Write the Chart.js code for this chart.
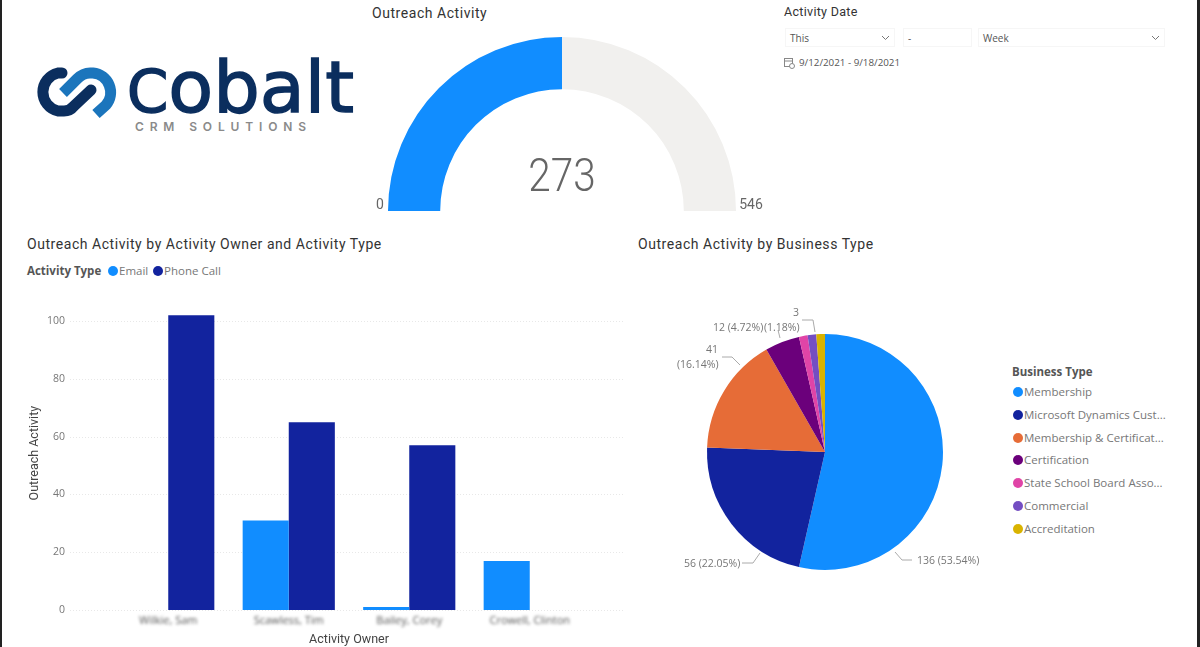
<!DOCTYPE html>
<html>
<head>
<meta charset="utf-8">
<script src="https://cdn.jsdelivr.net/npm/chart.js@4"></script>
<style>
  html, body { margin: 0; padding: 0; background: #fff; }
  body { position: relative; width: 1200px; height: 647px; overflow: hidden; font-family: "Open Sans", sans-serif; color: #777; }
  .edge { position: absolute; top: 0; bottom: 0; background: #222; }
  .title { position: absolute; font-family: Roboto, sans-serif; font-size: 14px; letter-spacing: .55px; color: #333; white-space: nowrap; line-height: 18px; }
  canvas { position: absolute; }
  .box { position: absolute; top: 28px; height: 19px; border: 1px solid #f6f6f6; box-sizing: border-box; font-size: 10px; line-height: 18px; padding-left: 4px; color: #555; }
  .box svg { position: absolute; right: 4px; top: 6px; }
  .legend-text { position: absolute; font-size: 11.5px; line-height: 16px; white-space: nowrap; }
  .dot { position: absolute; width: 10px; height: 10px; border-radius: 50%; }
  b { color: #555; font-weight: 700; }
</style>
</head>
<body>
<div class="edge" style="left:0;width:2px"></div>
<div class="edge" style="left:1197px;width:3px"></div>

<svg style="position:absolute;left:30px;top:55px" width="340" height="85" viewBox="30 55 340 85">
  <path d="M62 73 H58 A19.500 19.500 0 0 0 58 111 H64 Q70 111 74 106 L91 90" fill="none" stroke="#0b2e5e" stroke-width="11" stroke-linecap="round"/>
  <path d="M63 93 L77 79 Q83 73 90 73 H93 A19.500 19.500 0 0 1 106 105 L96 114" fill="none" stroke="#1b75bc" stroke-width="11"/>
  <text x="127" y="112" textLength="227" lengthAdjust="spacingAndGlyphs" font-family="DejaVu Sans, sans-serif" font-size="72" fill="#0b2e5e" stroke="#0b2e5e" stroke-width="1.500"><tspan font-size="58">C</tspan>obalt</text>
  <text x="135" y="131" textLength="171" font-family="Inter, sans-serif" font-size="12" font-weight="600" fill="#8a8a8a">CRM SOLUTIONS</text>
</svg>

<div class="title" style="left:372px;top:4px">Outreach Activity</div>
<div class="title" style="left:27px;top:235px">Outreach Activity by Activity Owner and Activity Type</div>
<div class="title" style="left:638px;top:235px">Outreach Activity by Business Type</div>

<div class="title" style="left:784px;top:3px;font-size:12.500px;letter-spacing:.3px">Activity Date</div>
<div class="box" style="left:785px;width:110px">This<svg width="9" height="6"><path d="M1 1 L4.500 4.500 L8 1" fill="none" stroke="#777"/></svg></div>
<div class="box" style="left:903px;width:69px">-</div>
<div class="box" style="left:978px;width:187px">Week<svg width="9" height="6"><path d="M1 1 L4.500 4.500 L8 1" fill="none" stroke="#777"/></svg></div>
<svg style="position:absolute;left:784px;top:57px" width="11" height="12"><rect x=".5" y="1.500" width="8" height="8" fill="none" stroke="#888"/><path d="M.5 4 H8.500" stroke="#888"/><circle cx="8" cy="9" r="2.500" fill="#fff" stroke="#888"/></svg>
<div class="legend-text" style="left:799px;top:55px;font-size:9.800px;color:#555">9/12/2021 - 9/18/2021</div>

<div id="barLegend"></div>
<div id="pieLegend"></div>

<canvas id="gauge" style="left:357px;top:37px"></canvas>
<canvas id="bars" style="left:0;top:290px"></canvas>
<canvas id="pie" style="left:640px;top:290px"></canvas>

<script>
const gaugeValue = 273;
const gaugeMax = 546;

const owners = ["Wilkie, Sam", "Scawless, Tim", "Bailey, Corey", "Crowell, Clinton"];
const emailCounts = [0, 31, 1, 17];
const phoneCounts = [102, 65, 57, 0];
const yTicks = [0, 20, 40, 60, 80, 100];

const businessTypes = ["Membership", "Microsoft Dynamics Cust...", "Membership & Certificat...", "Certification", "State School Board Asso...", "Commercial", "Accreditation"];
const businessCounts = [136, 56, 41, 12, 3, 3, 3];

const BLUE = "#118DFF", NAVY = "#12239E";
const pieColors = [BLUE, NAVY, "#E66C37", "#6B007B", "#E044A7", "#744EC2", "#D9B300"];
const FONT = '"Open Sans", sans-serif';

Chart.defaults.animation = false;
Chart.defaults.responsive = false;
Chart.defaults.devicePixelRatio = 1;
Chart.defaults.plugins.legend.display = false;
Chart.defaults.plugins.tooltip.enabled = false;

function size(id, w, h) {
  const c = document.getElementById(id);
  c.width = w; c.height = h;
  return c;
}

// legends
function addLegendItem(parent, x, y, color, label) {
  const d = document.createElement("div");
  d.className = "dot";
  d.style.cssText = `left:${x - 5}px;top:${y - 5}px;background:${color}`;
  parent.appendChild(d);
  const t = document.createElement("div");
  t.className = "legend-text";
  t.style.cssText = `left:${x + 6}px;top:${y - 8}px`;
  t.textContent = label;
  parent.appendChild(t);
}
const barLegend = document.getElementById("barLegend");
barLegend.innerHTML = '<div class="legend-text" style="left:27px;top:263px"><b>Activity Type</b></div>';
addLegendItem(barLegend, 113, 271, BLUE, "Email");
addLegendItem(barLegend, 158, 271, NAVY, "Phone Call");

const pieLegend = document.getElementById("pieLegend");
pieLegend.innerHTML = '<div class="legend-text" style="left:1012px;top:364px"><b>Business Type</b></div>';
businessTypes.forEach((b, i) => addLegendItem(pieLegend, 1018, 392 + i * 22.8, pieColors[i], b));

// gauge
new Chart(size("gauge", 410, 174), {
  type: "doughnut",
  data: { labels: ["Value", "Rest"], datasets: [{ data: [gaugeValue, gaugeMax - gaugeValue], backgroundColor: [BLUE, "#F1F0EE"], borderWidth: 0 }] },
  options: { rotation: -90, circumference: 180, cutout: "70%", layout: { padding: 0 } },
  plugins: [{
    id: "gaugeText",
    afterDraw(chart) {
      const ctx = chart.ctx;
      ctx.save();
      ctx.textBaseline = "middle";
      ctx.textAlign = "center";
      ctx.fillStyle = "#666";
      ctx.font = "14px Roboto, sans-serif";
      ctx.fillText("0", 23, 168);
      ctx.fillText(String(gaugeMax), 394, 168);
      ctx.translate(205, 142);
      ctx.scale(.88, 1);
      ctx.font = "300 46px Roboto, sans-serif";
      ctx.fillText(String(gaugeValue), 0, 0);
      ctx.restore();
    }
  }]
});

// bars
new Chart(size("bars", 640, 357), {
  type: "bar",
  data: {
    labels: owners,
    datasets: [
      { label: "Email", data: emailCounts, backgroundColor: BLUE },
      { label: "Phone Call", data: phoneCounts, backgroundColor: NAVY }
    ]
  },
  options: {
    layout: { autoPadding: false, padding: { left: 27, right: 50, top: 1, bottom: 0 } },
    datasets: { bar: { barPercentage: 1, categoryPercentage: 0.765 } },
    scales: {
      x: {
        grid: { display: false },
        border: { display: false },
        ticks: { display: false },
        title: { display: true, text: "Activity Owner", color: "#444", padding: 0, font: { family: "Roboto, sans-serif", size: 12.5 } },
        afterFit(s) { s.height = 37; }
      },
      y: {
        min: 0, max: 108.6,
        grid: { display: false, tickLength: 43 },
        border: { display: false },
        afterBuildTicks(s) { s.ticks = yTicks.map(v => ({ value: v })); },
        ticks: { color: "#777", padding: 0, font: { family: FONT, size: 10.5 } },
        title: { display: true, text: "Outreach Activity", color: "#444", padding: 0, font: { family: "Roboto, sans-serif", size: 12.5 } },
        afterFit(s) { s.width = 81; }
      }
    }
  },
  plugins: [{
    id: "wideGrid",
    beforeDatasetsDraw(chart) {
      // the grid runs past the plot on both sides
      const ctx = chart.ctx, y = chart.scales.y;
      ctx.save();
      ctx.strokeStyle = "#e8e8e8";
      ctx.setLineDash([1, 2]);
      yTicks.forEach(v => {
        const py = Math.round(y.getPixelForValue(v)) + .5;
        ctx.beginPath(); ctx.moveTo(70, py); ctx.lineTo(625, py); ctx.stroke();
      });
      ctx.restore();
    },
    afterDraw(chart) {
      // owner names are smudged in the picture
      const ctx = chart.ctx, x = chart.scales.x;
      ctx.save();
      ctx.filter = "blur(1.8px)";
      ctx.font = "11px " + FONT;
      ctx.fillStyle = "#555";
      ctx.textAlign = "center";
      ctx.textBaseline = "middle";
      owners.forEach((o, i) => ctx.fillText(o, x.getPixelForTick(i), 331));
      ctx.restore();
    }
  }]
});

// pie
const total = businessCounts.reduce((a, b) => a + b, 0);
const pct = v => "(" + (v / total * 100).toFixed(2) + "%)";
// label spots in page pixels: leader line, then text (num set when it wraps)
const pieCallouts = [
  { i: 0, line: [[895, 552], [902, 560], [912, 560]], at: [917, 561] },
  { i: 1, line: [[760, 553], [753, 563], [742, 563]], at: [684, 564] },
  { i: 2, line: [[740, 365], [732, 357], [722, 357]], at: [677, 365], num: [706, 350] },
  { i: 3, line: [[780, 338], [778, 330]], at: [713, 328] },
  { i: 4, line: [[815, 332], [813, 320], [802, 320]], at: [764, 328], num: [793, 313] }
];
new Chart(size("pie", 370, 324), {
  type: "pie",
  data: { labels: businessTypes, datasets: [{ data: businessCounts, backgroundColor: pieColors, borderWidth: 0, radius: 118 }] },
  options: { layout: { padding: 0 } },
  plugins: [{
    id: "callouts",
    afterDraw(chart) {
      const ctx = chart.ctx;
      ctx.save();
      ctx.translate(-640, -290);
      ctx.strokeStyle = "#aaa";
      ctx.fillStyle = "#777";
      ctx.font = "10.5px " + FONT;
      ctx.textBaseline = "middle";
      ctx.textAlign = "left";
      pieCallouts.forEach(c => {
        ctx.beginPath();
        c.line.forEach((p, k) => k ? ctx.lineTo(p[0], p[1]) : ctx.moveTo(p[0], p[1]));
        ctx.stroke();
        const v = businessCounts[c.i];
        if (c.num) {
          ctx.fillText(String(v), c.num[0], c.num[1]);
          ctx.fillText(pct(v), c.at[0], c.at[1]);
        } else {
          ctx.fillText(v + " " + pct(v), c.at[0], c.at[1]);
        }
      });
      ctx.restore();
    }
  }]
});
</script>
</body>
</html>
